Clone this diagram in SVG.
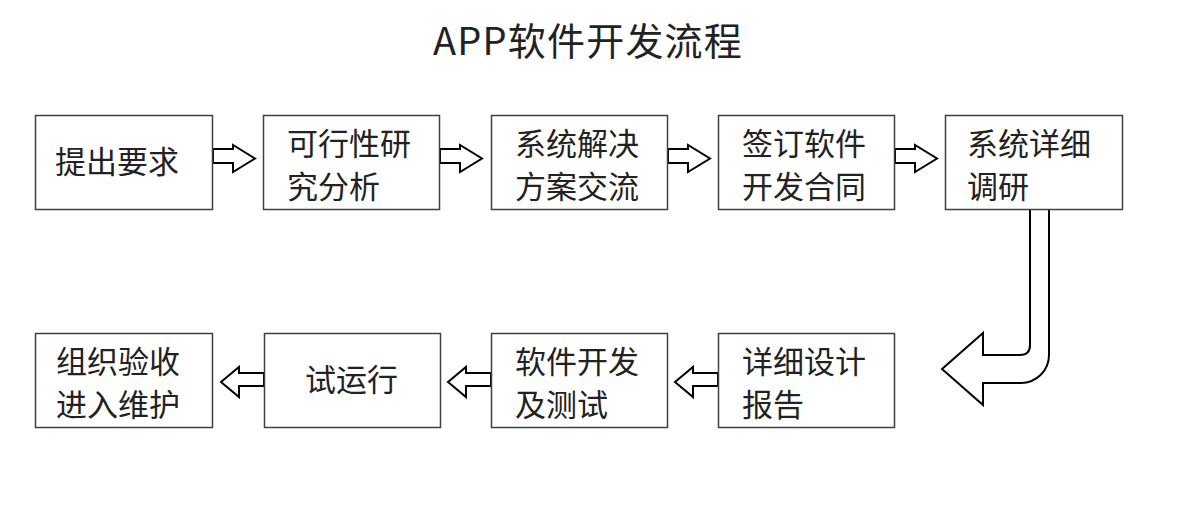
<svg xmlns="http://www.w3.org/2000/svg" width="1190" height="507" viewBox="0 0 1190 507">
<style>
.box{fill:#fff;stroke:#404040;stroke-width:1.5}
.t{font-family:"Noto Sans CJK SC","Liberation Sans",sans-serif;font-size:31px;fill:#222}
.arr{fill:#fff;stroke:#000;stroke-width:2;stroke-linejoin:miter}
.title{font-family:"Noto Sans CJK SC","Liberation Sans",sans-serif;font-size:38px;letter-spacing:1.2px;fill:#222}
</style>
<rect width="1190" height="507" fill="#fff"/>
<text class="title" x="588" y="55" text-anchor="middle">APP软件开发流程</text>
<g id="connectors">
<path class="arr" d="M213,149 L233,149 L233,145 L255,158.5 L233,172 L233,163 L213,163 Z"/>
<path class="arr" d="M440,149 L460,149 L460,145 L482,158.5 L460,172 L460,163 L440,163 Z"/>
<path class="arr" d="M668,149 L688,149 L688,145 L710,158.5 L688,172 L688,163 L668,163 Z"/>
<path class="arr" d="M895,149 L915,149 L915,145 L937,158.5 L915,172 L915,163 L895,163 Z"/>
<path class="arr" d="M1030,209 L1030,345 Q1030,355 1020,355 L983,355 L983,333 L942,369 L983,405 L983,383 L1021,383 A28,28 0 0 0 1049,355 L1049,209"/>
<path class="arr" d="M718,373 L693,373 L693,367 L675,382 L693,397 L693,386 L718,386 Z"/>
<path class="arr" d="M491,373 L466,373 L466,367 L448,382 L466,397 L466,386 L491,386 Z"/>
<path class="arr" d="M264,373 L239,373 L239,367 L221,382 L239,397 L239,386 L264,386 Z"/>
</g>
<g id="n1"><rect class="box" x="35.5" y="115.5" width="177" height="94"/><text class="t" x="55" y="173">提出要求</text></g>
<g id="n2"><rect class="box" x="263.5" y="115.5" width="176" height="94"/><text class="t" x="287" y="155">可行性研</text><text class="t" x="287" y="198">究分析</text></g>
<g id="n3"><rect class="box" x="491.5" y="115.5" width="176" height="94"/><text class="t" x="515" y="155">系统解决</text><text class="t" x="515" y="198">方案交流</text></g>
<g id="n4"><rect class="box" x="718.5" y="115.5" width="176" height="94"/><text class="t" x="742" y="155">签订软件</text><text class="t" x="742" y="198">开发合同</text></g>
<g id="n5"><rect class="box" x="945.5" y="115.5" width="177" height="94"/><text class="t" x="967" y="155">系统详细</text><text class="t" x="967" y="198">调研</text></g>
<g id="n6"><rect class="box" x="718.5" y="333.5" width="176" height="94"/><text class="t" x="742" y="373">详细设计</text><text class="t" x="742" y="416">报告</text></g>
<g id="n7"><rect class="box" x="491.5" y="333.5" width="176" height="94"/><text class="t" x="515" y="373">软件开发</text><text class="t" x="515" y="416">及测试</text></g>
<g id="n8"><rect class="box" x="264.5" y="333.5" width="176" height="94"/><text class="t" x="305" y="391">试运行</text></g>
<g id="n9"><rect class="box" x="35.5" y="333.5" width="177" height="94"/><text class="t" x="56" y="373">组织验收</text><text class="t" x="56" y="416">进入维护</text></g>
</svg>
